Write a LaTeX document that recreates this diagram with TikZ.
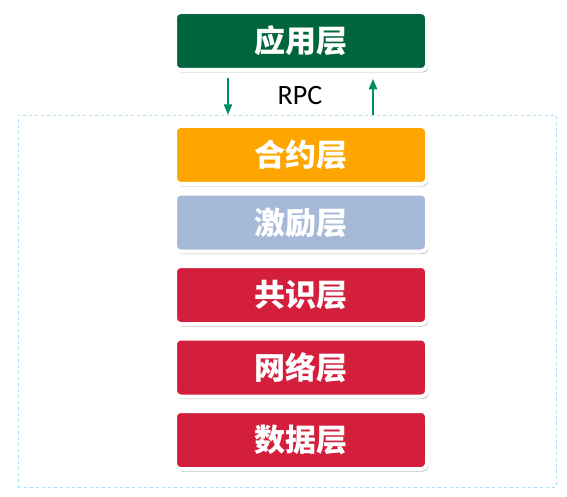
\documentclass[tikz,border=0pt]{standalone}
\usepackage{fontspec}
\usepackage{tikz}
\usetikzlibrary{shapes.geometric, arrows, shadows}
\newfontfamily\cjk{Noto Sans CJK SC}
\newfontfamily\rpcfont{Carlito}

\definecolor{appgreen}{RGB}{0,100,60}
\definecolor{contractorange}{RGB}{255,165,0}
\definecolor{incentiveblue}{RGB}{167,185,217}
\definecolor{layerred}{RGB}{211,31,60}
\definecolor{arrowteal}{RGB}{0,140,100}
\definecolor{frameblue}{RGB}{168,224,240}

\begin{document}
\begin{tikzpicture}[x=1pt, y=-1pt, node distance=72.5pt]
        \tikzstyle{layer} = [rectangle, rounded corners=6pt, minimum width=252pt, minimum height=58pt, text centered, draw=white, line width=4pt, text=white, font=\cjk\bfseries\fontsize{31}{31}\selectfont, drop shadow={shadow xshift=1.5pt, shadow yshift=-2.5pt, opacity=0.45, fill=black!60}]
        \tikzstyle{frame} = [rectangle, draw=frameblue, dashed, line width=0.8pt, minimum width=538pt, minimum height=372pt]
        \tikzstyle{arrow} = [arrowteal, line width=1.4pt, ->, >=triangle 45]

        \useasboundingbox (0,0) rectangle (567,497);

        \node (core) [frame] at (287,301) {};
        \node (contract) [layer, fill=contractorange] at (301,155) {合约层};
        \node (app) [layer, fill=appgreen, above of=contract, yshift=41.5pt] {应用层};
        \node (incentive) [layer, fill=incentiveblue, below of=contract, yshift=5pt] {激励层};
        \node (consensus) [layer, fill=layerred, below of=incentive] {共识层};
        \node (network) [layer, fill=layerred, below of=consensus] {网络层};
        \node (data) [layer, fill=layerred, below of=network] {数据层};

        \coordinate (downx) at (228,0);
        \coordinate (upx) at (373,0);
        \node (rpc) [font=\rpcfont\fontsize{28}{28}\selectfont] at (300,96) {RPC};

        \draw [arrow] ([yshift=-6pt]app.south -| downx) -- (core.north -| downx);
        \draw [arrow] (core.north -| upx) -- ([yshift=-7pt]app.south -| upx);
    \end{tikzpicture}
\end{document}
